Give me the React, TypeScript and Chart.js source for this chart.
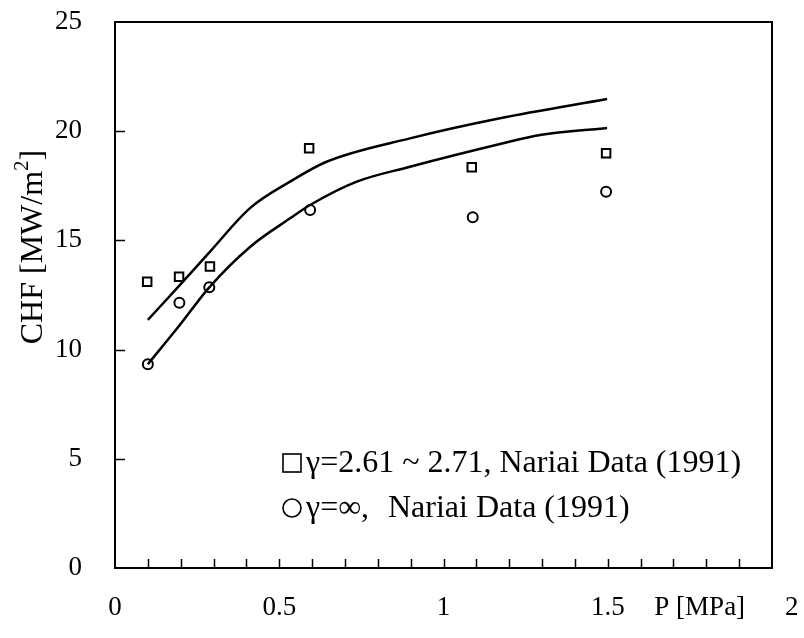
import React, { useEffect, useRef } from "react";
import { Chart, registerables } from "chart.js";

Chart.register(...registerables);

// ---- data ----
const squareX = [0.098, 0.195, 0.289, 0.591, 1.086, 1.495];
const squareY = [13.11, 13.34, 13.8, 19.22, 18.35, 18.99];
const circleX = [0.1, 0.196, 0.287, 0.594, 1.089, 1.495];
const circleY = [9.33, 12.15, 12.85, 16.39, 16.06, 17.23];
const upperX = [0.1, 0.2, 0.29, 0.411, 0.533, 0.644, 0.898, 1.172, 1.498];
const upperY = [11.36, 13.0, 14.5, 16.48, 17.69, 18.6, 19.67, 20.59, 21.47];
const lowerX = [0.1, 0.196, 0.287, 0.411, 0.533, 0.594, 0.736, 0.898, 1.172, 1.294, 1.498];
const lowerY = [9.33, 11.1, 12.85, 14.7, 16.01, 16.62, 17.69, 18.37, 19.41, 19.83, 20.15];

const xTickValues = [0, 0.5, 1, 1.5, 1.78, 2.06];
const xTickLabels = ["0", "0.5", "1", "1.5", "P [MPa]", "2"];
const yTickValues = [0, 5, 10, 15, 20, 25];
const xMarkTicks = [0.1, 0.2, 0.3, 0.4, 0.5, 0.6, 0.7, 0.8, 0.9, 1.0, 1.1, 1.2, 1.3, 1.4, 1.5, 1.6, 1.7, 1.8, 1.9];
const yMarkTicks = [5, 10, 15, 20];

const yTitleMain = "CHF [MW/m";
const yTitleSup = "2";
const yTitleEnd = "]";
const legendRow1 = "γ=2.61 ~ 2.71, Nariai Data (1991)";
const legendRow2a = "γ=∞,";
const legendRow2b = "Nariai Data (1991)";

const FONT = "'Liberation Serif', 'DejaVu Serif', serif";

const toPts = (xs: number[], ys: number[]) => xs.map((x, i) => ({ x, y: ys[i] }));

const decorPlugin = {
  id: "decor",
  afterDatasetsDraw(chart: any) {
    const { ctx, chartArea } = chart;
    const xs = chart.scales.x;
    const ys = chart.scales.y;
    ctx.save();
    ctx.strokeStyle = "#000";
    ctx.lineWidth = 2;
    // frame
    ctx.strokeRect(chartArea.left, chartArea.top, chartArea.right - chartArea.left, chartArea.bottom - chartArea.top);
    // inward ticks
    ctx.beginPath();
    xMarkTicks.forEach((v) => {
      const px = Math.round(xs.getPixelForValue(v)) + 0.5;
      ctx.moveTo(px, chartArea.bottom);
      ctx.lineTo(px, chartArea.bottom - 9);
    });
    yMarkTicks.forEach((v) => {
      const py = Math.round(ys.getPixelForValue(v)) + 0.5;
      ctx.moveTo(chartArea.left, py);
      ctx.lineTo(chartArea.left + 10, py);
    });
    ctx.lineWidth = 1.5;
    ctx.stroke();

    // legend
    ctx.fillStyle = "#000";
    ctx.font = `32px ${FONT}`;
    ctx.textBaseline = "middle";
    ctx.textAlign = "left";
    const mx = 292;
    const r1 = 463;
    const r2 = 508;
    ctx.lineWidth = 1.6;
    ctx.strokeRect(mx - 9, r1 - 9, 18, 18);
    ctx.beginPath();
    ctx.arc(mx, r2, 9, 0, Math.PI * 2);
    ctx.stroke();
    ctx.fillText(legendRow1, 306, r1 + 1);
    ctx.fillText(legendRow2a, 306, r2 + 1);
    ctx.fillText(legendRow2b, 388, r2 + 1);

    // y title
    ctx.save();
    ctx.translate(31, 247);
    ctx.rotate(-Math.PI / 2);
    ctx.font = `32px ${FONT}`;
    const w1 = ctx.measureText(yTitleMain).width;
    ctx.font = `21px ${FONT}`;
    const w2 = ctx.measureText(yTitleSup).width;
    ctx.font = `32px ${FONT}`;
    const w3 = ctx.measureText(yTitleEnd).width;
    let sx = -(w1 + w2 + w3) / 2;
    ctx.textBaseline = "alphabetic";
    ctx.fillText(yTitleMain, sx, 11);
    sx += w1;
    ctx.font = `21px ${FONT}`;
    ctx.fillText(yTitleSup, sx, -3);
    sx += w2;
    ctx.font = `32px ${FONT}`;
    ctx.fillText(yTitleEnd, sx, 11);
    ctx.restore();

    ctx.restore();
  },
};

export default function App() {
  const ref = useRef<HTMLCanvasElement | null>(null);
  useEffect(() => {
    document.body.style.margin = "0";
    if (!ref.current) return;
    const chart = new Chart(ref.current, {
      type: "scatter",
      data: {
        datasets: [
          {
            data: toPts(upperX, upperY),
            showLine: true,
            borderColor: "#000",
            borderWidth: 2.5,
            pointRadius: 0,
            cubicInterpolationMode: "monotone",
          },
          {
            data: toPts(lowerX, lowerY),
            showLine: true,
            borderColor: "#000",
            borderWidth: 2.5,
            pointRadius: 0,
            cubicInterpolationMode: "monotone",
          },
          {
            data: toPts(squareX, squareY),
            pointStyle: "rect",
            pointRadius: 6,
            borderColor: "#000",
            borderWidth: 2,
            backgroundColor: "rgba(255,255,255,0)",
          },
          {
            data: toPts(circleX, circleY),
            pointStyle: "circle",
            pointRadius: 5,
            borderColor: "#000",
            borderWidth: 2,
            backgroundColor: "rgba(255,255,255,0)",
          },
        ],
      } as any,
      options: {
        animation: false,
        responsive: true,
        maintainAspectRatio: false,
        layout: { padding: { top: 22, right: 32, left: 0, bottom: 0 } },
        plugins: { legend: { display: false }, tooltip: { enabled: false } },
        scales: {
          x: {
            type: "linear",
            min: 0,
            max: 2,
            grid: { display: false, drawTicks: false },
            border: { display: false },
            ticks: {
              color: "#000",
              font: { family: FONT, size: 27 },
              padding: 24,
              autoSkip: false,
              maxRotation: 0,
              callback: (_v: any, i: number) => xTickLabels[i],
            },
            afterBuildTicks: (s: any) => {
              s.ticks = xTickValues.map((v) => ({ value: v }));
            },
            afterFit: (s: any) => {
              s.height = 70;
              s.paddingLeft = 0;
              s.paddingRight = 0;
            },
          },
          y: {
            type: "linear",
            min: 0,
            max: 25,
            grid: { display: false, drawTicks: false },
            border: { display: false },
            ticks: {
              color: "#000",
              font: { family: FONT, size: 27 },
              padding: 33,
              callback: (v: any) => String(v),
            },
            afterBuildTicks: (s: any) => {
              s.ticks = yTickValues.map((v) => ({ value: v }));
            },
            afterFit: (s: any) => {
              s.width = 115;
              s.paddingTop = 0;
              s.paddingBottom = 0;
            },
          },
        },
      } as any,
      plugins: [decorPlugin],
    });
    return () => chart.destroy();
  }, []);
  return (
    <div style={{ position: "absolute", left: 0, top: 0, width: 804, height: 638 }}>
      <canvas ref={ref} />
    </div>
  );
}
